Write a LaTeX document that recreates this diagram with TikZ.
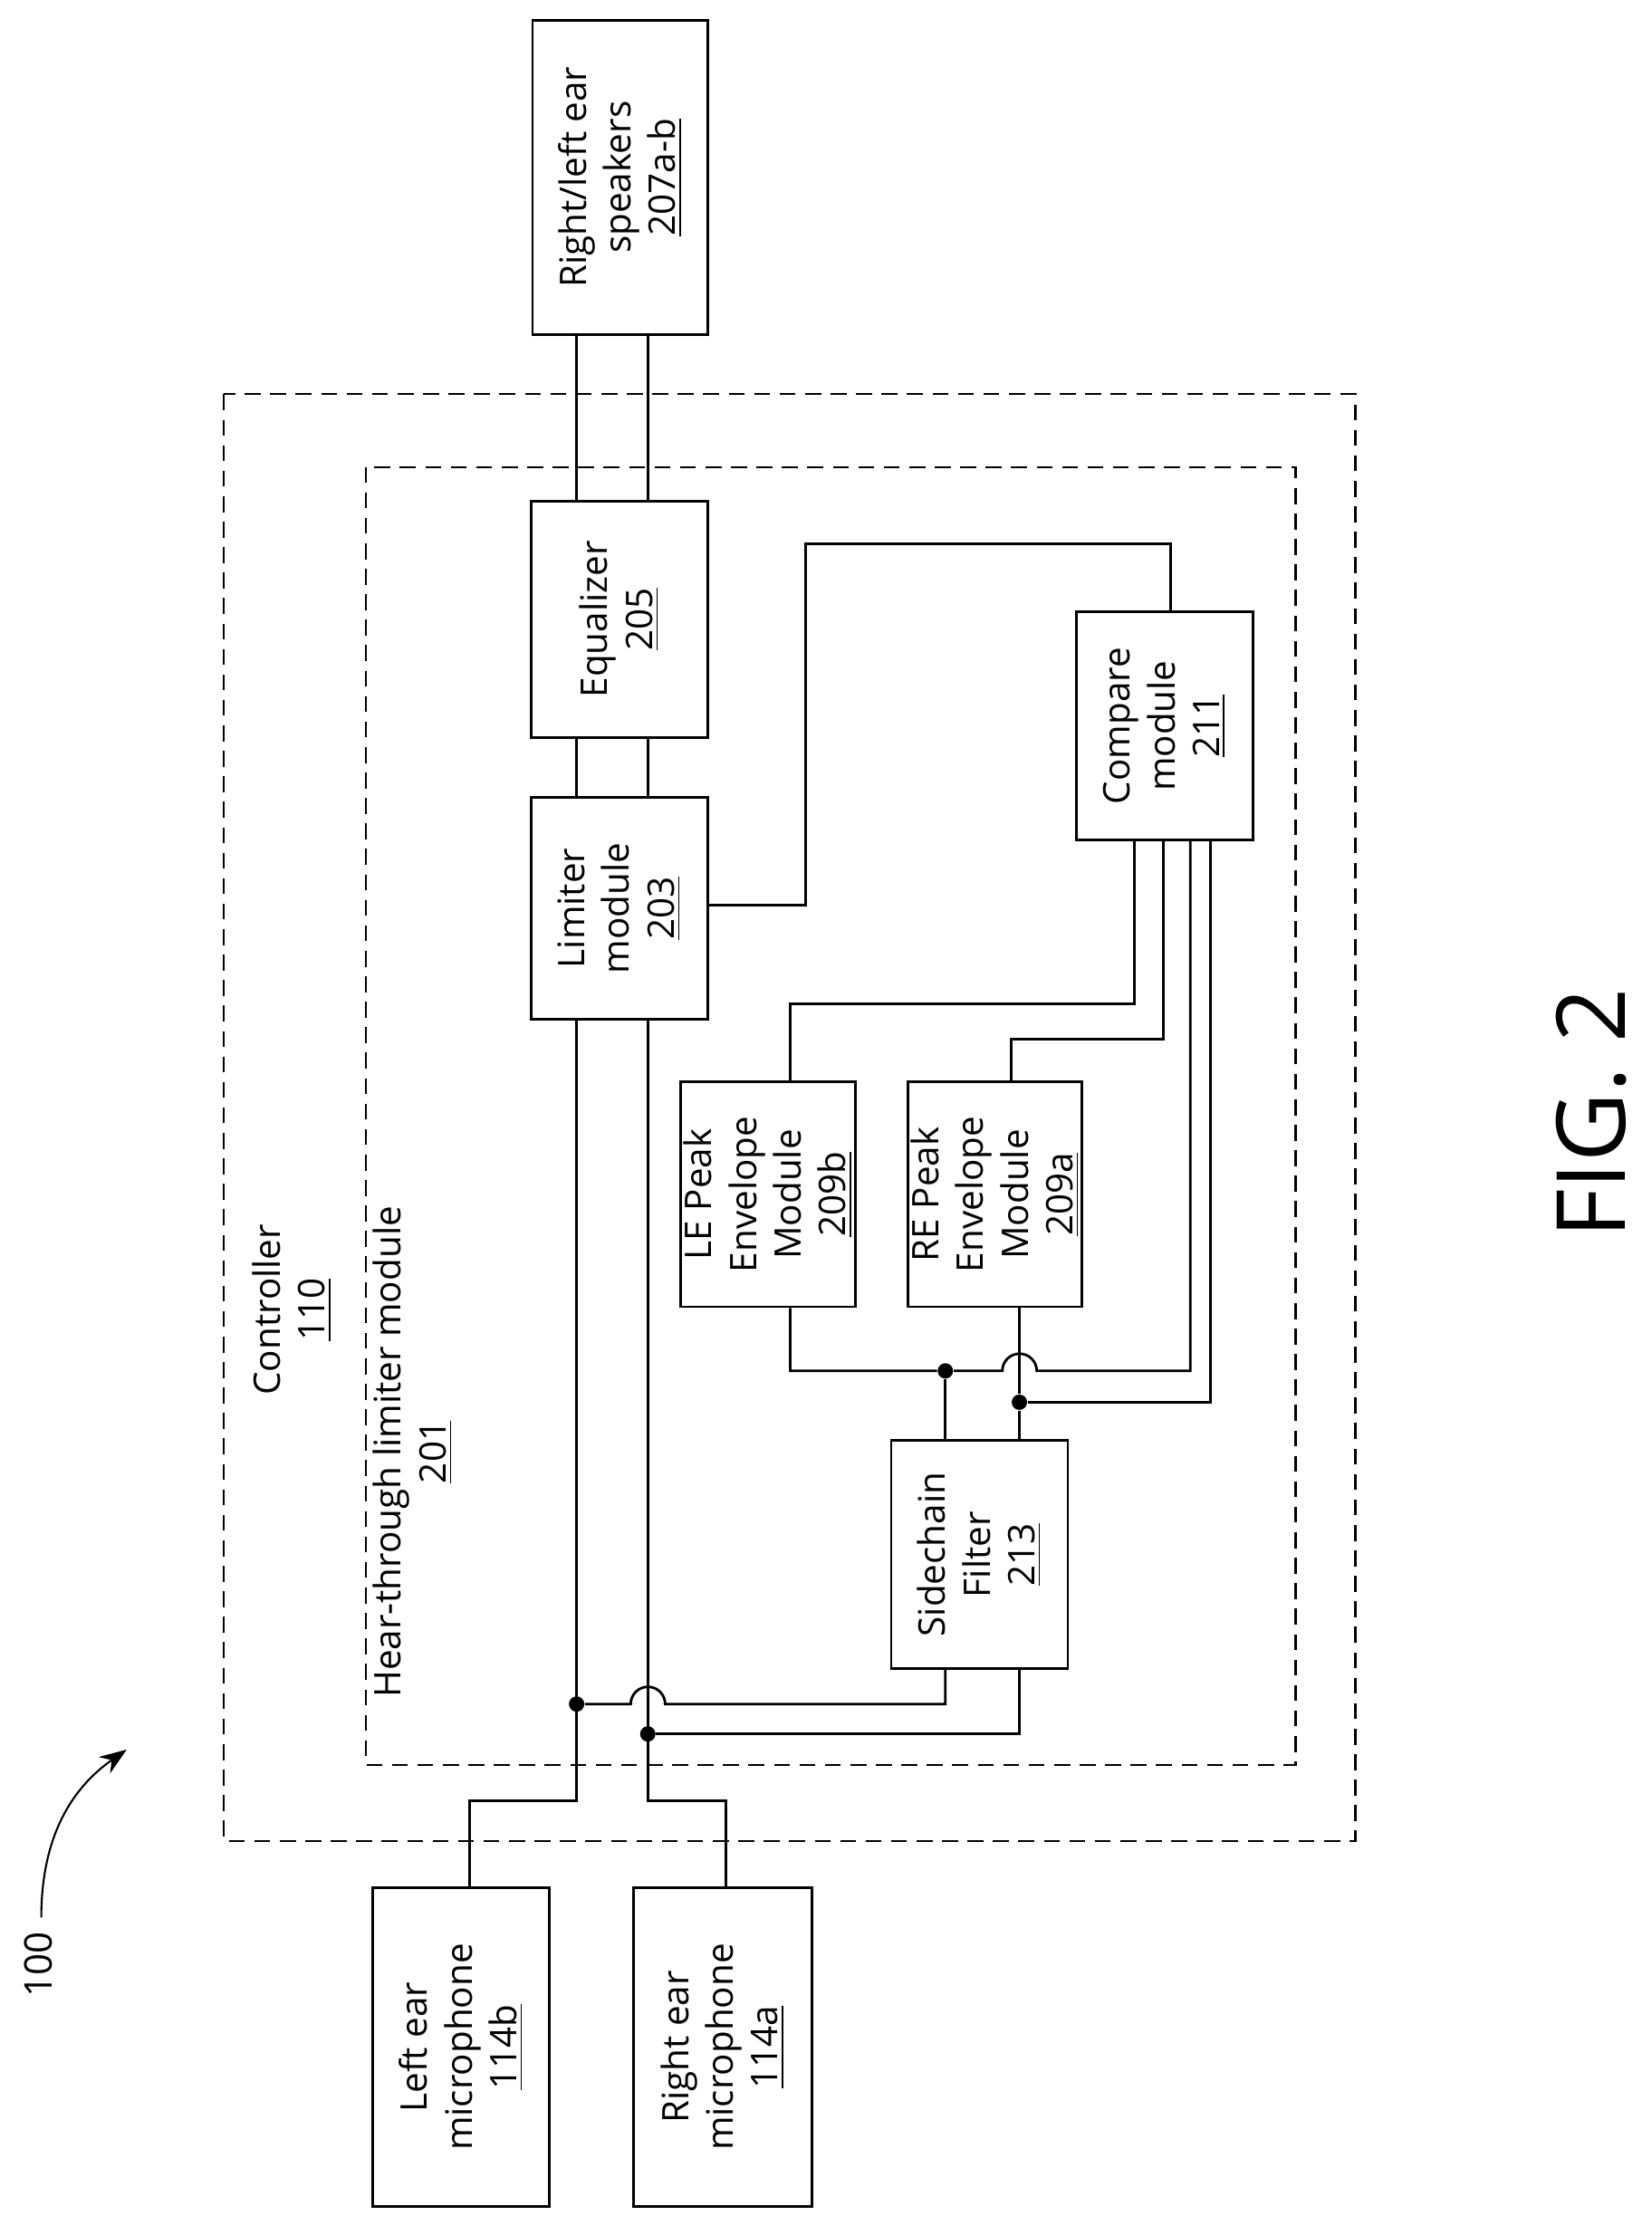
\documentclass[tikz,border=0pt]{standalone}
\usepackage{fontspec}
\setmainfont{Open Sans}
\usetikzlibrary{positioning, arrows.meta}

\tikzset{
	box/.style={draw, line width=0.8pt, inner sep=0pt},
	lbl/.style={rotate=90, align=center, font=\fontsize{11.5}{14}\selectfont},
	wire/.style={line width=0.8pt},
	dot/.style={circle, fill, inner sep=0pt, minimum size=0.17cm},
	frame/.style={dashed, dash pattern=on 5pt off 3pt, line width=0.6pt}
}

\begin{document}
\begin{tikzpicture}[x=0.01572cm, y=-0.01572cm]
	\useasboundingbox (0,0) rectangle (1160,1570);

	% dashed frames
	\draw [frame] (157,277) rectangle (952,1293);
	\draw [frame] (257,328) rectangle (910,1240);
	\node [lbl] (ctl) at (205,920) {Controller\\ \underline{110}};
	\node [lbl] (htl) at (290,1020) {Hear-through limiter module\\ \underline{201}};

	% boxes
	\node [box, minimum width=1.93cm, minimum height=3.47cm] (spk) at (435.5,124.5) {};
	\node [lbl] at (spk) {Right/left ear\\ speakers\\ \underline{207a-b}};
	\node [box, minimum width=1.95cm, minimum height=2.61cm] (eq) at (435,435) {};
	\node [lbl] at (eq) {Equalizer\\ \underline{205}};
	\node [box, minimum width=1.95cm, minimum height=2.45cm] (lim) at (435,638) {};
	\node [lbl] at (lim) {Limiter\\ module\\ \underline{203}};
	\node [box, minimum width=1.95cm, minimum height=2.52cm] (cmp) at (818,510) {};
	\node [lbl] at (cmp) {Compare\\ module\\ \underline{211}};
	\node [box, minimum width=1.93cm, minimum height=2.48cm] (le) at (539.5,839) {};
	\node [lbl] at (le) {LE Peak\\ Envelope\\ Module\\ \underline{209b}};
	\node [box, minimum width=1.92cm, minimum height=2.48cm] (re) at (699,839) {};
	\node [lbl] at (re) {RE Peak\\ Envelope\\ Module\\ \underline{209a}};
	\node [box, minimum width=1.95cm, minimum height=2.52cm] (sc) at (688,1092) {};
	\node [lbl] at (sc) {Sidechain\\ Filter\\ \underline{213}};
	\node [box, minimum width=1.95cm, minimum height=3.52cm] (lmic) at (324,1438) {};
	\node [lbl] at (lmic) {Left ear\\ microphone\\ \underline{114b}};
	\node [box, minimum width=1.97cm, minimum height=3.52cm] (rmic) at (507.5,1438) {};
	\node [lbl] at (rmic) {Right ear\\ microphone\\ \underline{114a}};

	\coordinate (lx) at (405,0);
	\coordinate (rx) at (455,0);

	% audio path
	\foreach \c in {lx, rx} {
		\draw [wire] (spk.south -| \c) -- (eq.north -| \c);
		\draw [wire] (eq.south -| \c) -- (lim.north -| \c);
	}
	\draw [wire] (lim.south -| lx) -- (405,1265) -- (330,1265) -- (lmic.north -| 330,0);
	\draw [wire] (lim.south -| rx) -- (455,1265) -- (510,1265) -- (rmic.north -| 510,0);

	% sidechain feeds
	\node [dot] (j1) at (405,1197) {};
	\node [dot] (j2) at (455,1218) {};
	\draw [wire] (j1) -- (443,1197) arc [start angle=180, end angle=0, radius=0.19cm] -- (664,1197) -- (sc.south -| 664,0);
	\draw [wire] (j2) -- (716,1218) -- (sc.south -| 716,0);

	% envelope taps
	\node [dot] (j3) at (664,963) {};
	\node [dot] (j4) at (716,985) {};
	\draw [wire] (sc.north -| 664,0) -- (j3);
	\draw [wire] (sc.north -| 716,0) -- (j4);
	\draw [wire] (le.south -| 555,0) -- (555,963) -- (j3) -- (704,963) arc [start angle=180, end angle=0, radius=0.19cm] -- (836,963) -- (cmp.south -| 836,0);
	\draw [wire] (re.south -| 716,0) -- (j4);
	\draw [wire] (j4) -- (850,985) -- (cmp.south -| 850,0);
	\draw [wire] (le.north -| 555,0) -- (555,705) -- (797,705) -- (cmp.south -| 797,0);
	\draw [wire] (re.north -| 710,0) -- (710,730) -- (817,730) -- (cmp.south -| 817,0);

	% control back to limiter
	\draw [wire] (lim.east |- 0,636) -- (566,636) -- (566,382) -- (822,382) -- (cmp.north -| 822,0);

	% labels
	\node [rotate=90, font=\fontsize{30}{34}\selectfont] (fig) at (1118,782) {FIG. 2};
	\node [rotate=90, font=\fontsize{12}{14}\selectfont] (ref) at (27,1380) {100};
	\draw [line width=0.6pt, -{Stealth[length=0.3cm, width=0.22cm]}] (29,1347) to [out=90, in=215] (89,1229);
\end{tikzpicture}
\end{document}
